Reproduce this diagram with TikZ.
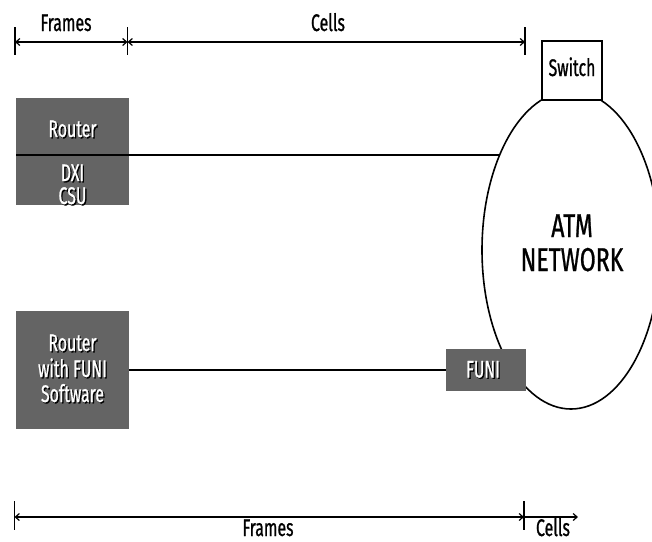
\documentclass[tikz,border=0pt]{standalone}
\usepackage{fontspec}
\setmainfont{Fira Sans}[FakeStretch=0.66,FakeBold=0.8]
\newfontfamily\bigfont{Fira Sans}[FakeStretch=0.7,FakeBold=0.8]
\usetikzlibrary{calc,arrows.meta,shapes.geometric}
\definecolor{boxgray}{RGB}{100,100,100}
\tikzset{
  graybox/.style={fill=boxgray,draw=none,inner sep=0pt,outer sep=0pt},
  lbl/.style={font=\fontsize{24}{24}\selectfont,inner sep=0pt,anchor=base},
  biglbl/.style={font=\bigfont\fontsize{33}{33}\selectfont,inner sep=0pt,anchor=base},
  ln/.style={line width=1.6pt},
  barb/.tip={Straight Barb[length=4pt,width=7pt,line width=1.2pt]},
  dimline/.style={line width=1.6pt,barb-barb},
  rarrow/.style={line width=1.6pt,-barb},
  tickline/.style={line width=1.8pt},
}
\newcommand\shline[4]{%
  \node[lbl,text=black] (#1s) at (#2+1.3,#3+1.3) {#4};
  \node[lbl,text=white] (#1) at (#2,#3) {#4};}
\begin{document}
\begin{tikzpicture}[x=1pt,y=-1pt]
\useasboundingbox (0,0) rectangle (652,541);
% top dimension
\coordinate (t0) at (15,42);
\coordinate (t1) at (127.5,42);
\coordinate (t2) at (525,42);
\draw[tickline] ($(t0)+(0,-15)$) -- ($(t0)+(0,13)$);
\draw[tickline] ($(t1)+(0,-15)$) -- ($(t1)+(0,13)$);
\draw[tickline] ($(t2)+(0,-15)$) -- ($(t2)+(0,13)$);
\draw[dimline] (t0) -- (t1);
\draw[dimline] (t1) -- (t2);
\node[lbl] (tframes) at (66,31) {Frames};
\node[lbl] (tcells) at (328,31) {Cells};
% ATM network
\node[ellipse,draw,ln,minimum width=178pt,minimum height=318pt,inner sep=0pt,outer sep=0pt] (atm) at (571,250) {};
\node[biglbl] (atm1) at (572,237) {ATM};
\node[biglbl] (atm2) at (572,271) {NETWORK};
\node[draw,ln,fill=white,minimum width=60pt,minimum height=59pt,inner sep=0pt,outer sep=0pt] (sw) at (572,70.5) {};
\node[lbl] (swt) at (572,76) {Switch};
% router DXI CSU
\node[graybox,minimum width=113pt,minimum height=107pt] (r1) at (72.5,151.5) {};
\coordinate (e1) at (atm.127.83);
\draw[ln] (r1.west |- e1) -- (e1);
\shline{r1a}{72.5}{137}{Router}
\shline{r1b}{72.5}{181}{DXI}
\shline{r1c}{72.5}{204}{CSU}
% router with FUNI
\node[graybox,minimum width=113pt,minimum height=118pt] (r2) at (72.5,370) {};
\shline{r2a}{72.5}{351}{Router}
\shline{r2b}{72.5}{377}{with FUNI}
\shline{r2c}{72.5}{402}{Software}
\node[graybox,minimum width=80pt,minimum height=42pt] (funi) at (486,370) {};
\shline{funit}{483}{377.5}{FUNI}
\draw[ln] (r2.east) -- (funi.west);
% bottom dimension
\coordinate (b0) at (14.5,517);
\coordinate (b1) at (524,517);
\coordinate (b2) at (578,517);
\draw[tickline] ($(b0)+(0,-16)$) -- ($(b0)+(0,13)$);
\draw[tickline] ($(b1)+(0,-16)$) -- ($(b1)+(0,13)$);
\draw[dimline] (b0) -- (b1);
\draw[rarrow] (b1) -- (b2);
\node[lbl] (bframes) at (268,536) {Frames};
\node[lbl] (bcells) at (553,536) {Cells};
\end{tikzpicture}
\end{document}
